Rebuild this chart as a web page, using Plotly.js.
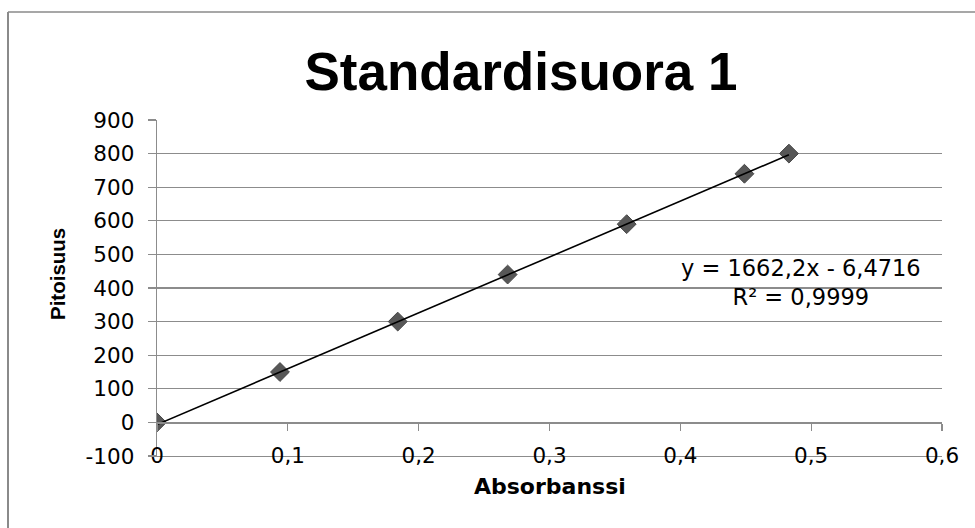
<!DOCTYPE html>
<html>
<head>
<meta charset="utf-8">
<script src="https://cdn.plot.ly/plotly-3.0.1.min.js"></script>
<style>
  html, body { margin: 0; padding: 0; background: #fff; }
  #chart { width: 975px; height: 528px; }
</style>
</head>
<body>
<div id="chart"></div>
<script>
// Standard curve: absorbance vs. concentration
const absorbance = [0, 0.094, 0.184, 0.268, 0.359, 0.449, 0.483];
const concentration = [0, 150, 300, 440, 590, 740, 800];

// Linear trendline coefficients and fit quality
const slope = 1662.2;
const intercept = -6.4716;
const rSquared = 0.9999;

// Axis tick values and their labels (decimal comma, plain hyphen)
const xTickVals = [0, 0.1, 0.2, 0.3, 0.4, 0.5, 0.6];
const xTickLabels = ['0', '0,1', '0,2', '0,3', '0,4', '0,5', '0,6'];
const yTickVals = [-100, 0, 100, 200, 300, 400, 500, 600, 700, 800, 900];
const yTickLabels = ['-100', '0', '100', '200', '300', '400', '500', '600', '700', '800', '900'];

const fmt = (v) => String(v).replace('.', ',');

const trendX = [Math.min(...absorbance), Math.max(...absorbance)];
const trendY = trendX.map((x) => slope * x + intercept);

const GRID = '#8c8c8c';
const FONT = 'DejaVu Sans';

const traces = [
  {
    type: 'scatter',
    mode: 'markers',
    x: absorbance,
    y: concentration,
    xaxis: 'x',
    yaxis: 'y',
    marker: { symbol: 'diamond', size: 14.5, color: '#575757', line: { color: '#474747', width: 1 } },
    hoverinfo: 'x+y',
    showlegend: false
  },
  {
    type: 'scatter',
    mode: 'lines',
    x: trendX,
    y: trendY,
    xaxis: 'x2',
    yaxis: 'y',
    line: { color: '#000', width: 1.6 },
    hoverinfo: 'skip',
    showlegend: false
  }
];

// Paper-coordinate helpers for the fixed margins
const M = { l: 157, r: 33, t: 120, b: 72 };
const PW = 975 - M.l - M.r;
const PH = 528 - M.t - M.b;
const px = (p) => (p - M.l) / PW;
const py = (p) => (528 - M.b - p) / PH;

const layout = {
  width: 975,
  height: 528,
  margin: M,
  paper_bgcolor: '#fff',
  plot_bgcolor: '#fff',
  showlegend: false,
  title: {
    text: 'Standardisuora 1',
    font: { family: 'Liberation Sans', size: 53, color: '#000', weight: 'bold' },
    xref: 'container', yref: 'container',
    x: 521 / 975, xanchor: 'center',
    y: 1 - 71 / 528, yanchor: 'middle'
  },
  xaxis: {
    range: [0, 0.6],
    tickmode: 'array',
    tickvals: xTickVals,
    ticktext: xTickLabels,
    ticks: '',
    showgrid: false,
    zeroline: false,
    showline: true,
    linecolor: GRID,
    linewidth: 1.3,
    ticklabelstandoff: -20,
    tickfont: { family: FONT, size: 21.5, color: '#000' },
    fixedrange: true
  },
  // Horizontal axis line at y = 0 with hanging tick marks
  xaxis2: {
    overlaying: 'x',
    matches: 'x',
    anchor: 'free',
    position: 0.1,
    side: 'bottom',
    range: [0, 0.6],
    tickmode: 'array',
    tickvals: xTickVals,
    ticks: 'outside',
    ticklen: 7,
    tickwidth: 1.3,
    tickcolor: GRID,
    showticklabels: false,
    showgrid: false,
    zeroline: false,
    showline: true,
    linecolor: GRID,
    linewidth: 1.3
  },
  yaxis: {
    range: [-100, 900],
    tickmode: 'array',
    tickvals: yTickVals,
    ticktext: yTickLabels,
    ticks: 'outside',
    ticklen: 8,
    tickwidth: 1.3,
    tickcolor: GRID,
    showgrid: true,
    gridcolor: GRID,
    gridwidth: 1.3,
    zeroline: false,
    showline: true,
    linecolor: GRID,
    linewidth: 1.3,
    ticklabelstandoff: 9,
    tickfont: { family: FONT, size: 21.5, color: '#000' },
    fixedrange: true
  },
  annotations: [
    {
      text: 'y = ' + fmt(slope) + 'x - ' + fmt(Math.abs(intercept)) + '<br>R² = ' + fmt(rSquared),
      xref: 'paper', yref: 'paper',
      x: px(801), y: py(282),
      xanchor: 'center', yanchor: 'middle',
      align: 'center',
      showarrow: false,
      font: { family: FONT, size: 22.5, color: '#000' }
    },
    {
      text: 'Absorbanssi',
      xref: 'paper', yref: 'paper',
      x: px(550), y: py(487),
      xanchor: 'center', yanchor: 'middle',
      showarrow: false,
      font: { family: FONT, size: 22, color: '#000', weight: 'bold' }
    },
    {
      text: 'Pitoisuus',
      xref: 'paper', yref: 'paper',
      x: px(57), y: py(274),
      xanchor: 'center', yanchor: 'middle',
      textangle: -90,
      showarrow: false,
      font: { family: 'Liberation Sans', size: 20.5, color: '#000', weight: 'bold' }
    }
  ],
  shapes: [
    // chart frame: left and top edges
    { type: 'line', xref: 'paper', yref: 'paper', x0: px(8), x1: px(8), y0: py(12), y1: py(530),
      line: { color: '#8a8a8a', width: 2 } },
    { type: 'line', xref: 'paper', yref: 'paper', x0: px(8), x1: px(980), y0: py(12), y1: py(12),
      line: { color: '#8a8a8a', width: 1.5 } }
  ]
};

Plotly.newPlot('chart', traces, layout, { staticPlot: true, displayModeBar: false });
</script>
</body>
</html>
